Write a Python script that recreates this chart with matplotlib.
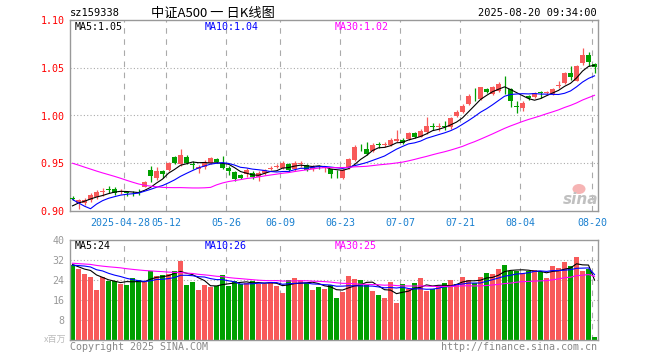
import numpy as np
import pandas as pd
import matplotlib
matplotlib.use("Agg")
import matplotlib.pyplot as plt
from matplotlib.patches import Ellipse
from matplotlib.transforms import ScaledTranslation

# closes / volumes of the sessions before the window, only used to seed the moving averages
prev_close = [0.970, 0.975, 0.978, 0.982, 0.979, 0.976, 0.974, 0.980, 0.983, 0.978, 0.975, 0.970,
              0.966, 0.962, 0.958, 0.955, 0.953, 0.957, 0.956, 0.953,
              0.947, 0.946, 0.943,
              0.872, 0.885, 0.897, 0.902, 0.905, 0.910]
prev_vol = [33, 31, 30, 32, 34, 31, 30, 29, 32, 33, 31, 30, 32, 31, 30, 32, 31, 32.7,
            29, 28, 30, 28.3, 29, 31, 30, 33, 31, 28, 29]

# daily K line (sessions 2025-04-15 .. 2025-08-20)
opens = [0.914, 0.908, 0.908, 0.911, 0.915, 0.920, 0.9225, 0.923, 0.920, 0.9195,
         0.919, 0.920, 0.9255, 0.943, 0.935, 0.942, 0.943, 0.957, 0.949, 0.957,
         0.9485, 0.9435, 0.946, 0.9505, 0.9545, 0.9505, 0.9455, 0.941, 0.9375, 0.9385,
         0.940, 0.936, 0.9395, 0.9445, 0.946, 0.945, 0.949, 0.9435, 0.9495, 0.948,
         0.9435, 0.9468, 0.9455, 0.9435, 0.9398, 0.935, 0.945, 0.9535, 0.966, 0.965,
         0.963, 0.9695, 0.969, 0.969, 0.973, 0.9745, 0.975, 0.9815, 0.978, 0.983,
         0.9885, 0.988, 0.989, 0.9875, 0.999, 1.004, 1.012, 1.0205, 1.0175, 1.0275,
         1.0225, 1.026, 1.033, 1.0275, 1.0095, 1.0075, 1.020, 1.0195, 1.0245, 1.0235,
         1.0225, 1.031, 1.034, 1.0445, 1.0365, 1.0545, 1.0635, 1.054]
highs = [0.916, 0.913, 0.914, 0.919, 0.922, 0.924, 0.926, 0.925, 0.923, 0.921,
         0.921, 0.923, 0.931, 0.9475, 0.946, 0.943, 0.951, 0.958, 0.965, 0.959,
         0.952, 0.948, 0.953, 0.957, 0.956, 0.9575, 0.947, 0.942, 0.939, 0.945,
         0.942, 0.942, 0.944, 0.947, 0.949, 0.952, 0.950, 0.952, 0.952, 0.949,
         0.948, 0.948, 0.947, 0.9445, 0.943, 0.944, 0.956, 0.969, 0.970, 0.972,
         0.971, 0.972, 0.972, 0.976, 0.985, 0.976, 0.983, 0.983, 0.986, 0.9985,
         0.992, 0.992, 0.994, 0.998, 1.006, 1.012, 1.022, 1.029, 1.030, 1.029,
         1.0305, 1.035, 1.041, 1.029, 1.0155, 1.015, 1.021, 1.025, 1.026, 1.026,
         1.029, 1.036, 1.046, 1.0515, 1.053, 1.0705, 1.066, 1.055]
lows = [0.911, 0.902, 0.906, 0.909, 0.913, 0.916, 0.919, 0.917, 0.918, 0.916,
        0.916, 0.917, 0.925, 0.930, 0.932, 0.935, 0.942, 0.949, 0.947, 0.949,
        0.944, 0.940, 0.944, 0.949, 0.950, 0.944, 0.938, 0.931, 0.933, 0.936,
        0.934, 0.931, 0.938, 0.943, 0.945, 0.944, 0.941, 0.942, 0.946, 0.942,
        0.942, 0.944, 0.941, 0.9345, 0.935, 0.933, 0.944, 0.952, 0.963, 0.9585,
        0.962, 0.966, 0.967, 0.968, 0.972, 0.970, 0.974, 0.976, 0.977, 0.981,
        0.985, 0.984, 0.985, 0.986, 0.998, 1.003, 1.011, 1.015, 1.016, 1.024,
        1.021, 1.025, 1.023, 1.0086, 1.003, 1.005, 1.016, 1.018, 1.0185, 1.022,
        1.021, 1.029, 1.033, 1.0375, 1.036, 1.053, 1.052, 1.045]
closes = [0.913, 0.912, 0.911, 0.917, 0.920, 0.921, 0.922, 0.919, 0.921, 0.919,
          0.9185, 0.919, 0.9305, 0.9365, 0.942, 0.939, 0.950, 0.950, 0.9585, 0.950,
          0.948, 0.9465, 0.951, 0.9555, 0.9515, 0.945, 0.942, 0.933, 0.935, 0.943,
          0.936, 0.940, 0.943, 0.945, 0.9465, 0.950, 0.943, 0.9505, 0.950, 0.943,
          0.9465, 0.9462, 0.946, 0.9385, 0.9393, 0.943, 0.9545, 0.9675, 0.9655, 0.960,
          0.969, 0.969, 0.9695, 0.9745, 0.975, 0.9715, 0.9815, 0.978, 0.984, 0.989,
          0.988, 0.9885, 0.988, 0.997, 1.004, 1.010, 1.0205, 1.020, 1.0295, 1.025,
          1.0295, 1.0335, 1.0325, 1.0155, 1.009, 1.0135, 1.018, 1.024, 1.024, 1.024,
          1.0275, 1.032, 1.045, 1.040, 1.052, 1.0635, 1.0565, 1.051]

# volume, x million
volumes = [30, 28.4, 26.4, 25.3, 20, 25.2, 23.5, 23.7, 22.4, 22,
           24.8, 24, 23.3, 27.6, 25.6, 25.9, 26.4, 27.6, 31.6, 22,
           23.2, 20, 22, 21.3, 21.6, 25.9, 21.6, 23.7, 22.4, 22.7,
           23.7, 22.4, 22.4, 23.3, 21.7, 18.9, 24, 24.9, 24, 22.7,
           20, 21.3, 20.4, 22, 16.9, 19.3, 25.6, 24.4, 24, 22,
           19.7, 18, 16.9, 23.2, 14.9, 22.4, 20.3, 22.8, 25, 19.7,
           20.3, 21.6, 22.8, 24, 22.4, 25.2, 24, 22.8, 25.2, 26.8,
           26.4, 28.4, 30, 27.6, 27.6, 26.8, 27.6, 28, 27.2, 24.8,
           29.6, 28.8, 31.2, 29.6, 33.2, 27.5, 28.4, 1.2]

holidays = ["2025-05-01", "2025-05-02", "2025-05-05", "2025-06-02"]
tick_dates = ["2025-04-28", "2025-05-12", "2025-05-26", "2025-06-09", "2025-06-23",
              "2025-07-07", "2025-07-21", "2025-08-04", "2025-08-20"]
price_ticks = [0.90, 0.95, 1.00, 1.05, 1.10]
vol_ticks = [8, 16, 24, 32, 40]

RED = "#f85a5a"
GREEN = "#009f00"
GRID = "#aaaaaa"
MONO = "DejaVu Sans Mono"
W, H = 660, 360


def px(x, y):
    return x / W, 1 - y / H


def media(prev, vals, n):
    s = pd.Series(list(prev) + list(vals), dtype=float)
    return s.rolling(n).mean().values[len(prev):]


dias = pd.bdate_range("2025-04-15", "2025-08-20")
dias = dias[~dias.isin(pd.to_datetime(holidays))]
x = np.arange(len(dias))
tick_idx = [list(dias).index(pd.Timestamp(d)) for d in tick_dates]
tick_lbl = [pd.Timestamp(d).strftime("%m-%d") for d in tick_dates]
tick_lbl[0] = tick_dates[0]

o = np.array(opens)
h = np.array(highs)
l = np.array(lows)
c = np.array(closes)
v = np.array(volumes)
cores = np.where(c >= o, RED, GREEN)

fig = plt.figure(figsize=(6.6, 3.6), dpi=100)
ax = fig.add_axes([70 / W, 1 - 211 / H, 528 / W, 191 / H])
axv = fig.add_axes([70 / W, 1 - 340 / H, 528 / W, 100 / H])

xmin, xmax = -0.42, 87.58
for a in (ax, axv):
    a.set_xlim(xmin, xmax)
    for s in a.spines.values():
        s.set_color("#999999")
        s.set_linewidth(1)
    a.tick_params(length=0)
    for i in tick_idx:
        a.axvline(i - 0.35, color=GRID, lw=0.8, ls=(0, (5, 5)), zorder=0)

# candles
ax.set_ylim(0.90, 1.10)
for t in price_ticks[1:-1]:
    ax.axhline(t, color=GRID, lw=0.8, ls=(0, (1, 2)), zorder=0)
ax.vlines(x, l, h, colors=cores, lw=0.9, zorder=2)
ax.bar(x, np.maximum(np.abs(c - o), 0.0008), bottom=np.minimum(o, c), width=0.8,
       color=cores, linewidth=0, zorder=3)
ax.plot(x, media(prev_close, closes, 5), color="black", lw=0.8, zorder=4)
ax.plot(x, media(prev_close, closes, 10), color="#0000ff", lw=0.8, zorder=4)
ax.plot(x, media(prev_close, closes, 30), color="#ff00ff", lw=0.8, zorder=4)
ax.set_yticks(price_ticks)
ax.set_yticklabels(["%.2f" % t for t in price_ticks], color="red", family=MONO, fontsize=7.2)
ax.set_xticks([i - 0.35 for i in tick_idx])
ax.set_xticklabels(tick_lbl, color="#1a80d0", family=MONO, fontsize=7.2)
ax.tick_params(axis="x", pad=5)
ax.tick_params(axis="y", pad=4)
# the long first date butts against "05-12", nudge it left a little
primeiro = ax.get_xticklabels()[0]
primeiro.set_transform(primeiro.get_transform() + ScaledTranslation(-0.04, 0, fig.dpi_scale_trans))

# volume
axv.set_ylim(0, 40)
for t in vol_ticks[:-1]:
    axv.axhline(t, color=GRID, lw=0.8, ls=(0, (1, 2)), zorder=0)
axv.bar(x, v, width=0.83, color=cores, linewidth=0, zorder=2)
axv.plot(x, media(prev_vol, volumes, 5), color="black", lw=0.8, zorder=3)
axv.plot(x, media(prev_vol, volumes, 10), color="#0000ff", lw=0.8, zorder=3)
axv.plot(x, media(prev_vol, volumes, 30), color="#ff00ff", lw=0.8, zorder=3)
axv.set_yticks(vol_ticks)
axv.set_yticklabels([str(t) for t in vol_ticks], color="#999999", family=MONO, fontsize=7.2)
axv.set_xticks([])
axv.tick_params(axis="y", pad=4)

# header texts
fig.text(*px(70, 13), "sz159338", family=MONO, fontsize=7.5, va="center")
fig.text(*px(213, 13), "中证A500 一 日K线图", family=["Noto Sans CJK SC"], fontsize=9.5,
         ha="center", va="center")
fig.text(*px(597, 13), "2025-08-20 09:34:00", family=MONO, fontsize=7.5, ha="right", va="center")

ma_p = [media(prev_close, closes, n)[-1] for n in (5, 10, 30)]
ma_v = [media(prev_vol, volumes, n)[-1] for n in (5, 10, 30)]
for xx, nome, cor, val, valv in zip([75, 205, 335], ["MA5", "MA10", "MA30"],
                                    ["black", "#0000ff", "#ff00ff"], ma_p, ma_v):
    fig.text(*px(xx, 27), "%s:%.2f" % (nome, val), color=cor, family=MONO, fontsize=7.2, va="center")
    fig.text(*px(xx, 246), "%s:%d" % (nome, round(valv)), color=cor, family=MONO, fontsize=7.2, va="center")

fig.text(*px(66, 339), "x百万", color="#bbbbbb", family=["Noto Sans CJK SC"], fontsize=6.5,
         ha="right", va="center")
fig.text(*px(70, 347), "Copyright 2025 SINA.COM", color="#888888", family=MONO, fontsize=7.2, va="center")
fig.text(*px(597, 347), "http://finance.sina.com.cn", color="#888888", family=MONO, fontsize=7.2,
         ha="right", va="center")

# sina watermark (eye logo + text)
fig.add_artist(Ellipse(px(579, 189), 13 / W, 10 / H, transform=fig.transFigure,
                       facecolor="#f6b4b4", edgecolor="none", zorder=1))
fig.text(*px(581, 199), "sina", color="#c0c0c0", family="DejaVu Sans", fontsize=11,
         fontweight="bold", style="italic", ha="center", va="center", zorder=2)

fig.savefig("out.png", dpi=100)
